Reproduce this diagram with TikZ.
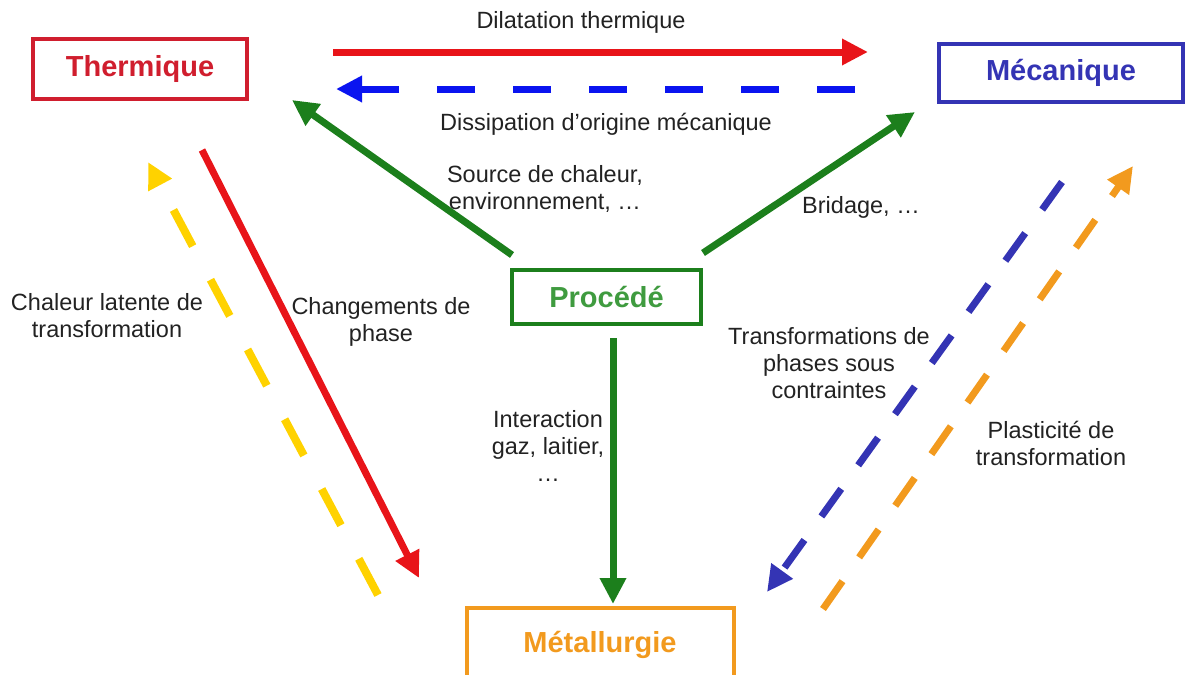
\documentclass[tikz,border=0pt]{standalone}
\usepackage{fontspec}
\setmainfont{Liberation Sans}
\usetikzlibrary{arrows.meta}
\definecolor{rougebox}{HTML}{D01E2E}
\definecolor{rouge}{HTML}{E81419}
\definecolor{bleu}{HTML}{0A14F0}
\definecolor{bleumeca}{HTML}{3434B4}
\definecolor{vert}{HTML}{1C7F1C}
\definecolor{vertclair}{HTML}{3F9B3F}
\definecolor{jaune}{HTML}{FFD200}
\definecolor{orangemet}{HTML}{F29A1E}
\definecolor{texte}{HTML}{222222}
\begin{document}
\begin{tikzpicture}[x=1pt, y=-1pt,
  domaine/.style={draw, line width=4pt, font=\fontsize{29}{34}\selectfont\bfseries},
  lbl/.style={text=texte, align=center, font=\fontsize{23.5}{27}\selectfont},
  fleche/.style={line width=7pt, -{Triangle[length=26pt,width=25pt]}},
  tirets/.style={dash pattern=on 38pt off 38pt}]
\useasboundingbox (0,0) rectangle (1187,675);
% les quatre domaines
\node[domaine, rougebox, minimum width=214pt, minimum height=60pt] (thermique) at (140,69) {Thermique};
\node[domaine, bleumeca, minimum width=244pt, minimum height=58pt] (mecanique) at (1061,72.5) {Mécanique};
\node[domaine, vert, text=vertclair, minimum width=189pt, minimum height=54pt] (procede) at (606.5,297) {Procédé};
\node[domaine, orangemet, minimum width=267pt, minimum height=74pt, text depth=0pt, inner ysep=0pt] (metallurgie) at (600,645) {\raisebox{6pt}{Métallurgie}};
% extremites des fleches
\coordinate (dil1) at (333,52);   \coordinate (dil2) at (868,52);
\coordinate (dis1) at (855,89);   \coordinate (dis2) at (336,89);
\coordinate (pt1) at (512,255);   \coordinate (pt2) at (292,100);
\coordinate (pm1) at (703,253);   \coordinate (pm2) at (915,112);
\coordinate (pa1) at (613,338);   \coordinate (pa2) at (613,604);
\coordinate (ch1) at (202,150);   \coordinate (ch2) at (419,578);
\coordinate (la1) at (378,595);   \coordinate (la2) at (148,162);
\coordinate (co1) at (1062,182);  \coordinate (co2) at (767,592);
\coordinate (pl1) at (823,609);   \coordinate (pl2) at (1133,166);
\draw[fleche, rouge] (dil1) -- (dil2);
\draw[fleche, bleu, tirets] (dis1) -- (dis2);
\draw[fleche, vert] (pt1) -- (pt2);
\draw[fleche, vert] (pm1) -- (pm2);
\draw[fleche, vert] (pa1) -- (pa2);
\draw[fleche, rouge] (ch1) -- (ch2);
\draw[fleche, jaune, line width=8pt, dash pattern=on 41pt off 38pt] (la1) -- (la2);
\draw[fleche, bleumeca, dash pattern=on 34pt off 29pt] (co1) -- (co2);
\draw[fleche, orangemet, dash pattern=on 34pt off 29pt] (pl1) -- (pl2);
% textes
\node[lbl] (tdil) at (581,22) {Dilatation thermique};
\node[lbl] (tdis) at (606,124) {Dissipation d’origine mécanique};
\node[lbl] (tsrc) at (545,189) {Source de chaleur,\\environnement, …};
\node[lbl] (tbri) at (861,207) {Bridage, …};
\node[lbl] (tcha) at (381,322) {Changements de\\phase};
\node[lbl] (tlat) at (107,316) {Chaleur latente de\\transformation};
\node[lbl] (tint) at (548,446) {Interaction\\gaz, laitier,\\…};
\node[lbl] (ttra) at (829,363) {Transformations de\\phases sous\\contraintes};
\node[lbl] (tpla) at (1051,443) {Plasticité de\\transformation};
\end{tikzpicture}
\end{document}
